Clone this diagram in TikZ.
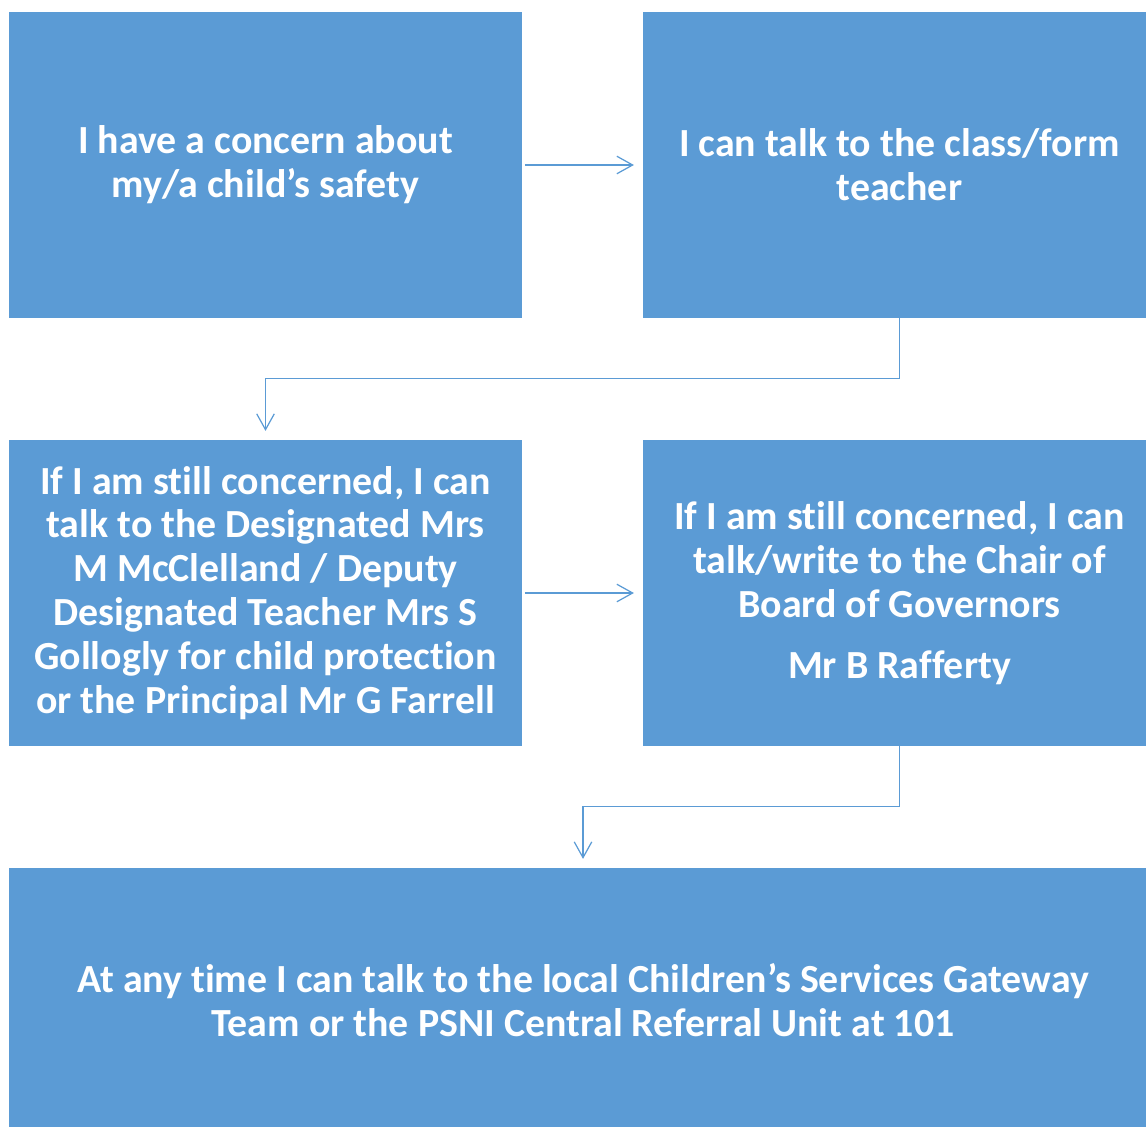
\documentclass[tikz,border=0pt]{standalone}
\usepackage{fontspec}
\setmainfont[Ligatures={NoCommon,NoRequired,NoContextual}]{Carlito}
\usetikzlibrary{arrows.meta}
\definecolor{boxblue}{HTML}{5B9BD5}
\tikzset{
  stage/.style={fill=boxblue,draw=none,text=white,align=center,
    font=\fontsize{22.7}{25}\selectfont\bfseries,
    minimum width=10.26cm,minimum height=6.12cm,inner sep=0pt},
  flow/.style={draw=boxblue,line width=0.7pt,
    -{Straight Barb[length=9pt,width=10pt,line width=0.7pt]},
    shorten <=1.5pt,shorten >=5pt}
}
\begin{document}
\begin{tikzpicture}[x=0.02cm,y=-0.02cm]
  \useasboundingbox (0,0) rectangle (1146,1126);
  % top row
  \node[stage] (concern) at (265.5,165) {I have a concern about\\my/a child’s safety};
  \node[stage] (teacher) at (899.5,165) {I can talk to the class/form\\teacher};
  % middle row
  \node[stage] (designated) at (265.5,593) {If I am still concerned, I can\\talk to the Designated Mrs\\M McClelland / Deputy\\Designated Teacher Mrs S\\Gollogly for child protection\\or the Principal Mr G Farrell};
  \node[stage] (chair) at (899.5,593) {If I am still concerned, I can\\talk/write to the Chair of\\Board of Governors\\[10pt]Mr B Rafferty};
  % bottom
  \node[stage,minimum width=22.96cm,minimum height=5.28cm] (gateway) at (583,1000) {At any time I can talk to the local Children’s Services Gateway\\Team or the PSNI Central Referral Unit at 101};
  % Arrows
  \draw[flow] (concern) -- (teacher);
  \draw[flow] (designated) -- (chair);
  \draw[flow,shorten <=0pt] (teacher.south) -- ++(0,60) -| (designated.north);
  \draw[flow,shorten <=0pt] (chair.south) -- ++(0,60) -| (gateway.north);
\end{tikzpicture}
\end{document}
